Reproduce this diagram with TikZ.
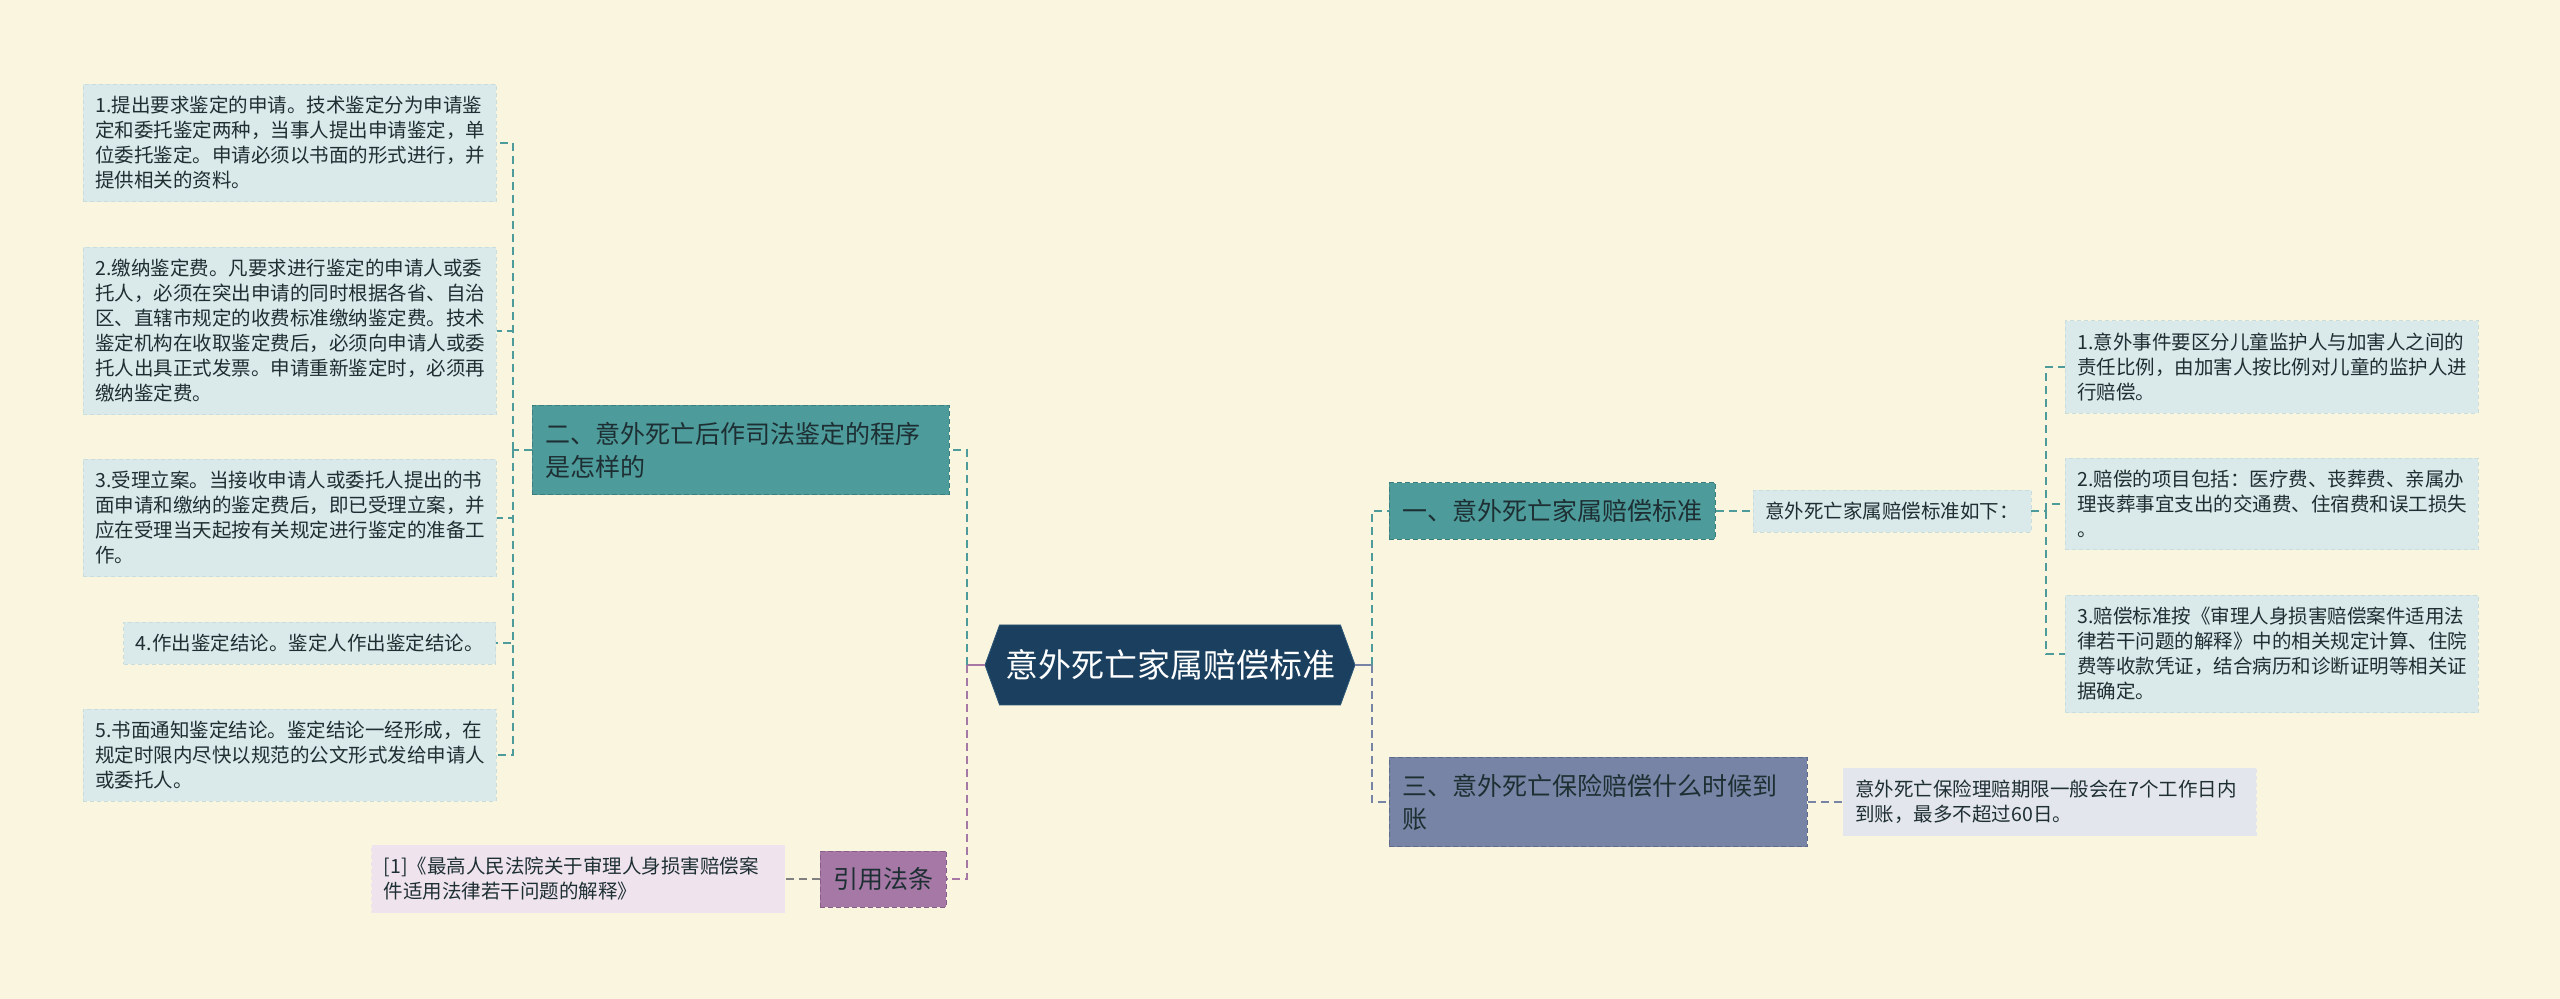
\documentclass[tikz,border=0pt]{standalone}
\usepackage{fontspec}
\setmainfont{Noto Sans CJK SC}
\usetikzlibrary{shapes.symbols}
\definecolor{pagebg}{HTML}{FAF5DF}
\definecolor{tealc}{HTML}{4D9B9B}
\definecolor{tealbd}{HTML}{3C7D7E}
\definecolor{leafbg}{HTML}{DAE9E9}
\definecolor{leafbd}{HTML}{C9DDDD}
\definecolor{navy}{HTML}{1B3F5E}
\definecolor{navybd}{HTML}{2E5878}
\definecolor{slate}{HTML}{7884A5}
\definecolor{slatebd}{HTML}{5F6A88}
\definecolor{slateleaf}{HTML}{E3E6EC}
\definecolor{mauve}{HTML}{A678A6}
\definecolor{mauvebd}{HTML}{885E88}
\definecolor{mauveleaf}{HTML}{EFE4EE}
\definecolor{inktxt}{HTML}{1E2F33}
\begin{document}
\begin{tikzpicture}[
                    x=0.5pt, y=-0.5pt,
                    leaf/.style={fill=leafbg, draw=leafbd, dash pattern=on 2pt off 1.5pt, text=inktxt,
                                 font=\fontsize{9.75pt}{12.5pt}\selectfont, align=left,
                                 inner xsep=6pt, inner ysep=6pt},
                    wideleaf/.style={leaf, text width=194.5pt},
                    topic/.style={fill=tealc, draw=tealbd, dash pattern=on 2.5pt off 1.5pt, text=inktxt,
                                  font=\fontsize{12.5pt}{16.5pt}\selectfont, align=left,
                                  inner xsep=6.5pt, inner ysep=8.25pt},
                    root/.style={signal, signal to=west and east, signal pointer angle=140,
                                 fill=navy, draw=navybd, text=white, font=\fontsize{16.5pt}{20pt}\selectfont,
                                 minimum width=185pt, minimum height=40pt, inner xsep=0pt},
                    link/.style={line width=1pt, dash pattern=on 4pt off 2.5pt}
                ]
                \fill[pagebg] (0,0) rectangle (2560,999);

                \node[root] (zc) at (1170,665) {意外死亡家属赔偿标准};

                \node[topic, text width=195.5pt, anchor=west] (er) at (532,450) {二、意外死亡后作司法鉴定的程序\\是怎样的};
                \node[topic, anchor=west] (yi) at (1389,511) {一、意外死亡家属赔偿标准};
                \node[topic, fill=slate, draw=slatebd, text width=196pt, anchor=west] (sa) at (1389,802) {三、意外死亡保险赔偿什么时候到\\账};
                \node[topic, fill=mauve, draw=mauvebd, anchor=west] (yf) at (820,879) {引用法条};

                \node[wideleaf, anchor=west] (b1) at (83,143) {1.提出要求鉴定的申请。技术鉴定分为申请鉴\\定和委托鉴定两种，当事人提出申请鉴定，单\\位委托鉴定。申请必须以书面的形式进行，并\\提供相关的资料。};
                \node[wideleaf, anchor=west] (b2) at (83,331) {2.缴纳鉴定费。凡要求进行鉴定的申请人或委\\托人，必须在突出申请的同时根据各省、自治\\区、直辖市规定的收费标准缴纳鉴定费。技术\\鉴定机构在收取鉴定费后，必须向申请人或委\\托人出具正式发票。申请重新鉴定时，必须再\\缴纳鉴定费。};
                \node[wideleaf, anchor=west] (b3) at (83,518) {3.受理立案。当接收申请人或委托人提出的书\\面申请和缴纳的鉴定费后，即已受理立案，并\\应在受理当天起按有关规定进行鉴定的准备工\\作。};
                \node[leaf, anchor=east] (b4) at (496,643) {4.作出鉴定结论。鉴定人作出鉴定结论。};
                \node[wideleaf, anchor=west] (b5) at (83,755) {5.书面通知鉴定结论。鉴定结论一经形成，在\\规定时限内尽快以规范的公文形式发给申请人\\或委托人。};

                \node[leaf, anchor=west] (rd) at (1753,511) {意外死亡家属赔偿标准如下：};
                \node[wideleaf, anchor=west] (r1) at (2065,367) {1.意外事件要区分儿童监护人与加害人之间的\\责任比例，由加害人按比例对儿童的监护人进\\行赔偿。};
                \node[wideleaf, anchor=west] (r2) at (2065,504) {2.赔偿的项目包括：医疗费、丧葬费、亲属办\\理丧葬事宜支出的交通费、住宿费和误工损失\\。};
                \node[wideleaf, anchor=west] (r3) at (2065,654) {3.赔偿标准按《审理人身损害赔偿案件适用法\\律若干问题的解释》中的相关规定计算、住院\\费等收款凭证，结合病历和诊断证明等相关证\\据确定。};

                \node[wideleaf, fill=slateleaf, draw=slateleaf, anchor=west] (sl) at (1843,802) {意外死亡保险理赔期限一般会在7个工作日内\\到账，最多不超过60日。};
                \node[wideleaf, fill=mauveleaf, draw=mauveleaf, anchor=east] (fl) at (785,879) {[1]《最高人民法院关于审理人身损害赔偿案\\件适用法律若干问题的解释》};

                \coordinate (lj) at (967,665);
                \coordinate (rj) at (1372,665);
                \coordinate (lk) at (513,450);
                \coordinate (rk) at (2046,511);

                \draw[mauve, line width=1pt] (zc.west) -- (lj);
                \draw[slate, line width=1pt] (zc.east) -- (rj);
                \draw[link, tealc] (lj) |- (er.east);
                \draw[link, mauve] (lj) |- (yf.east);
                \draw[link, tealc] (rj) |- (yi.west);
                \draw[link, slate] (rj) |- (sa.west);

                \draw[link, tealc] (er.west) -- (lk);
                \foreach \n in {1,...,5}
                    \draw[link, tealc] (lk) |- (b\n.east);

                \draw[link, tealc] (yi.east) -- (rd.west);
                \draw[link, tealc] (rd.east) -- (rk);
                \foreach \n in {1,2,3}
                    \draw[link, tealc] (rk) |- (r\n.west);

                \draw[link, slate] (sa.east) -- (sl.west);
                \draw[link, gray] (yf.west) -- (fl.east);

            \end{tikzpicture}
\end{document}
